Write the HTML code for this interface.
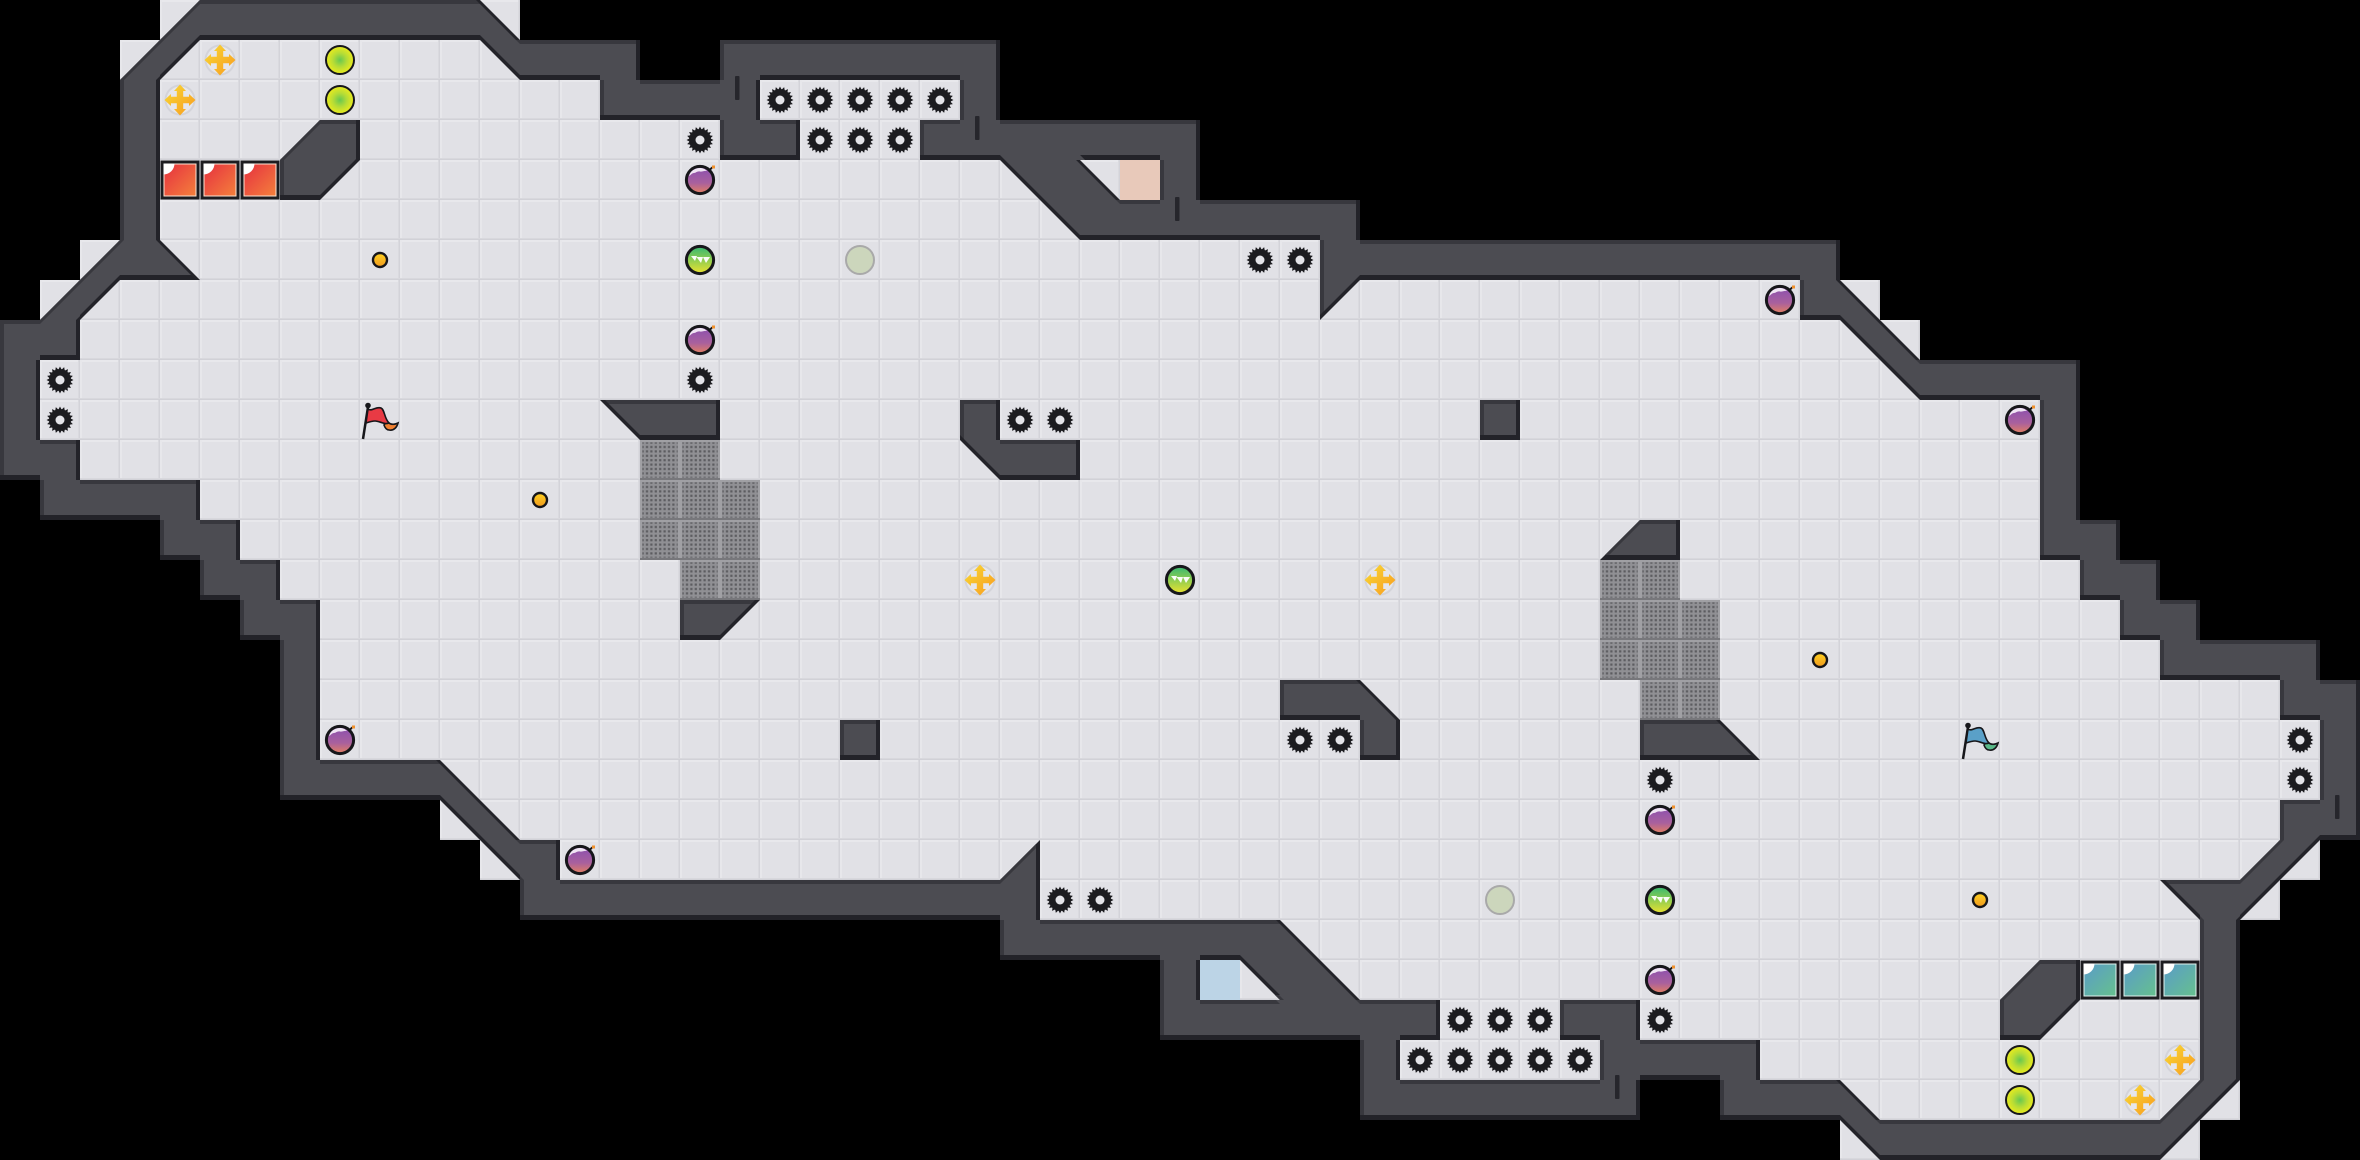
<!DOCTYPE html>
<html><head><meta charset="utf-8"><title>Level</title>
<style>html,body{margin:0;padding:0;background:#000}svg{display:block}</style></head>
<body>
<svg xmlns="http://www.w3.org/2000/svg" width="2360" height="1160" viewBox="0 0 2360 1160">
<defs>
<pattern id="tile" width="40" height="40" patternUnits="userSpaceOnUse">
<rect width="40" height="40" fill="#e1e1e6"/>
<rect width="40" height="2" fill="#e8e8ec"/>
<rect width="2" height="40" fill="#e7e7eb"/>
<rect x="38" width="1" height="40" fill="#dadadf"/>
<rect x="39" width="1" height="40" fill="#d3d3d9"/>
<rect y="38" width="40" height="1" fill="#d8d8dd"/>
<rect y="39" width="40" height="1" fill="#d1d1d7"/>
</pattern>
<pattern id="dots" width="4.4" height="4.4" patternUnits="userSpaceOnUse" x="0" y="0">
<rect x="1.1" y="1.1" width="2.2" height="2.2" fill="#5c5c60"/>
</pattern>
<path id="w" transform="scale(40)" clip-rule="evenodd" d="M5 0L12 0L13 1L16 1L16 2L18 2L18 1L25 1L25 3L30 3L30 5L34 5L34 6L46 6L46 7L48 9L52 9L52 13L53 13L53 14L54 14L54 15L55 15L55 16L58 16L58 17L59 17L59 21L58 21L56 23L56 27L54 29L47 29L46 28L43 28L43 27L41 27L41 28L34 28L34 26L29 26L29 24L25 24L25 23L13 23L13 22L11 20L7 20L7 16L6 16L6 15L5 15L5 14L4 14L4 13L1 13L1 12L0 12L0 8L1 8L3 6L3 2Z
M5 1L12 1L13 2L15 2L15 3L18 3L18 4L20 4L20 3L19 3L19 2L24 2L24 3L23 3L23 4L25 4L27 6L33 6L33 8L34 7L45 7L45 8L46 8L48 10L51 10L51 14L52 14L52 15L53 15L53 16L54 16L54 17L57 17L57 18L58 18L58 20L57 20L57 21L56 22L54 22L55 23L55 27L54 28L47 28L46 27L44 27L44 26L41 26L41 25L39 25L39 26L40 26L40 27L35 27L35 26L36 26L36 25L34 25L32 23L26 23L26 21L25 22L14 22L14 21L13 21L11 19L8 19L8 15L7 15L7 14L6 14L6 13L5 13L5 12L2 12L2 11L1 11L1 9L2 9L2 8L3 7L5 7L4 6L4 2Z
M27 4L29 4L29 5L28 5Z M31 24L32 25L30 25L30 24Z
M8 3L9 3L9 4L8 5L7 5L7 4Z M15 10L18 10L18 11L16 11Z M17 15L19 15L18 16L17 16Z M21 18L22 18L22 19L21 19Z M24 10L25 10L25 11L27 11L27 12L25 12L24 11Z
M51 26L50 26L50 25L51 24L52 24L52 25Z M44 19L41 19L41 18L43 18Z M42 14L40 14L41 13L42 13Z M37 10L38 10L38 11L37 11Z M35 19L34 19L34 18L32 18L32 17L34 17L35 18Z"/>
<clipPath id="cw"><use href="#w"/></clipPath>
<clipPath id="cu"><use href="#w" transform="translate(0,-5)"/></clipPath>
<clipPath id="cl"><use href="#w" transform="translate(-4,0)"/></clipPath>
<clipPath id="cr"><use href="#w" transform="translate(4,0)"/></clipPath>
<clipPath id="cd"><use href="#w" transform="translate(0,4)"/></clipPath>
<clipPath id="cf"><path transform="scale(40)" d="M5 0L12 0L13 1L16 1L16 2L18 2L18 1L25 1L25 3L30 3L30 5L34 5L34 6L46 6L46 7L48 9L52 9L52 13L53 13L53 14L54 14L54 15L55 15L55 16L58 16L58 17L59 17L59 21L58 21L56 23L56 27L54 29L47 29L46 28L43 28L43 27L41 27L41 28L34 28L34 26L29 26L29 24L25 24L25 23L13 23L13 22L11 20L7 20L7 16L6 16L6 15L5 15L5 14L4 14L4 13L1 13L1 12L0 12L0 8L1 8L3 6L3 2Z
M4 0h1v1h-1z M3 1h1v1h-1z M2 6h1v1h-1z M1 7h1v1h-1z M12 0h1v1h-1z M11 20h1v1h-1z M12 21h1v1h-1z M46 7h1v1h-1z M47 8h1v1h-1z M54 28h1v1h-1z M55 27h1v1h-1z M56 22h1v1h-1z M57 21h1v1h-1z M46 28h1v1h-1z"/></clipPath>
<linearGradient id="gb" x1="0" y1="0" x2="0" y2="1"><stop offset="0" stop-color="#8a50b0"/><stop offset=".6" stop-color="#a8609e"/><stop offset="1" stop-color="#e58060"/></linearGradient>
<linearGradient id="gt" x1="0" y1="0" x2="0" y2="1"><stop offset="0" stop-color="#35b872"/><stop offset="1" stop-color="#ece22e"/></linearGradient>
<radialGradient id="gy"><stop offset="0" stop-color="#68c850"/><stop offset=".5" stop-color="#b6dc36"/><stop offset="1" stop-color="#ecec1c"/></radialGradient>
<linearGradient id="gc" x1="0" y1="0" x2="1" y2="1"><stop offset="0" stop-color="#f8da34"/><stop offset="1" stop-color="#f89a20"/></linearGradient>
<linearGradient id="gm" x1="0" y1="0" x2="0" y2="1"><stop offset="0" stop-color="#ffd21f"/><stop offset="1" stop-color="#f09a20"/></linearGradient>
<linearGradient id="gr" x1="0" y1="0" x2="1" y2="1"><stop offset="0" stop-color="#e6303f"/><stop offset="1" stop-color="#f4803c"/></linearGradient>
<linearGradient id="gs" x1="0" y1="0" x2="1" y2="1"><stop offset="0" stop-color="#5a9cc8"/><stop offset="1" stop-color="#66c08e"/></linearGradient>
<g id="g"><g transform="translate(20,20)"><polygon fill="#1b1b1f" points="13.5,0 10.37,1.64 12.84,4.17 9.36,4.77 10.92,7.94 7.42,7.42 7.94,10.92 4.77,9.36 4.17,12.84 1.64,10.37 0,13.5 -1.64,10.37 -4.17,12.84 -4.77,9.36 -7.94,10.92 -7.42,7.42 -10.92,7.94 -9.36,4.77 -12.84,4.17 -10.37,1.64 -13.5,0 -10.37,-1.64 -12.84,-4.17 -9.36,-4.77 -10.92,-7.94 -7.42,-7.42 -7.94,-10.92 -4.77,-9.36 -4.17,-12.84 -1.64,-10.37 0,-13.5 1.64,-10.37 4.17,-12.84 4.77,-9.36 7.94,-10.92 7.42,-7.42 10.92,-7.94 9.36,-4.77 12.84,-4.17 10.37,-1.64"/><circle r="11" fill="#1b1b1f"/><circle r="4.5" fill="#e3e3e8"/></g></g>
<g id="b"><circle cx="20" cy="20" r="13.6" fill="url(#gb)" stroke="#16161a" stroke-width="3"/><path d="M9 16C10 11 15 8 20 8C23 8 25 9 27 11C24 10.5 22 12 20 11.5C17 11 16 13 14 13C12 13 11 15 9 16Z" fill="#fff" opacity=".85"/><path d="M28 11L33 7" stroke="#16161a" stroke-width="2"/><rect x="32" y="5.5" width="3" height="3" fill="#f0902a"/></g>
<g id="t"><circle cx="20" cy="20" r="13.6" fill="url(#gt)" stroke="#16161a" stroke-width="3"/><path d="M11 16L17 16L15 21ZM16.5 17L23 17L21 23ZM23 17L30 17L26 23Z" fill="#fff" opacity=".95"/></g>
<g id="p"><circle cx="20" cy="20" r="14" fill="#ccd6bc" stroke="#a9a9a9" stroke-width="2"/></g>
<g id="y"><circle cx="20" cy="20" r="14" fill="url(#gy)" stroke="#16161a" stroke-width="2"/></g>
<g id="c"><circle cx="20" cy="20" r="15.5" fill="#d3d3d9"/><circle cx="20" cy="20" r="13.5" fill="#e6e6ea"/><path fill="url(#gc)" d="M20 4.5L26 11L23.2 11L23.2 16.8L29 16.8L29 14L35.5 20L29 26L29 23.2L23.2 23.2L23.2 29L26 29L20 35.5L14 29L16.8 29L16.8 23.2L11 23.2L11 26L4.5 20L11 14L11 16.8L16.8 16.8L16.8 11L14 11Z"/></g>
<g id="m"><circle cx="20" cy="20" r="7" fill="url(#gm)" stroke="#16161a" stroke-width="2.4"/></g>
<g id="rb"><rect x=".5" y=".5" width="39" height="39" fill="#1c1c20"/><rect x="4" y="4" width="32" height="32" fill="url(#gr)" stroke="#fbe2d2" stroke-width="1"/><path d="M3.5 3.5H14.5A11 11 0 0 1 3.5 14.5Z" fill="#fff"/></g>
<g id="sb"><rect x=".5" y=".5" width="39" height="39" fill="#1c1c20"/><rect x="4" y="4" width="32" height="32" fill="url(#gs)" stroke="#e0f2ee" stroke-width="1"/><path d="M3.5 3.5H14.5A11 11 0 0 1 3.5 14.5Z" fill="#fff"/></g>
<g id="h"><rect width="40" height="40" fill="#a0a0a4"/><rect y="38" width="40" height="2" fill="#77777b"/><rect x="2" y="2" width="36" height="36" fill="#909094"/><rect x="2" y="2" width="35.2" height="35.2" fill="url(#dots)" transform="translate(.4,.4)"/></g>
<g id="fr"><path d="M3 39L8 7" stroke="#16161a" stroke-width="2.5" fill="none"/><circle cx="8" cy="5.5" r="2.8" fill="#16161a"/><path d="M27 21C30 25 34 25 38 23C37 27 34 31 29 30C27 30 25 28 24 25Z" fill="#f08030" stroke="#16161a" stroke-width="1.6"/><path d="M8 9C12 12 16 6 21 8C25 10 24 18 29 23C24 25 20 21 15 21C12 21 9 22 6 23Z" fill="#e83a44" stroke="#16161a" stroke-width="1.6"/></g>
<g id="fb"><path d="M3 39L8 7" stroke="#16161a" stroke-width="2.5" fill="none"/><circle cx="8" cy="5.5" r="2.8" fill="#16161a"/><path d="M27 21C30 25 34 25 38 23C37 27 34 31 29 30C27 30 25 28 24 25Z" fill="#58b888" stroke="#16161a" stroke-width="1.6"/><path d="M8 9C12 12 16 6 21 8C25 10 24 18 29 23C24 25 20 21 15 21C12 21 9 22 6 23Z" fill="#5aa0c8" stroke="#16161a" stroke-width="1.6"/></g>
</defs>
<rect width="2360" height="1160" fill="#000"/>
<g clip-path="url(#cf)"><rect width="2360" height="1160" fill="url(#tile)"/></g>
<rect x="1120" y="160" width="40" height="40" fill="#e8c9ba"/>
<rect x="1200" y="960" width="40" height="40" fill="#bcd4e6"/>
<g clip-path="url(#cw)"><rect width="2360" height="1160" fill="#232329"/>
<g clip-path="url(#cu)"><g clip-path="url(#cl)"><rect width="2360" height="1160" fill="#38383e"/>
<g clip-path="url(#cr)"><g clip-path="url(#cd)"><rect width="2360" height="1160" fill="#4c4c52"/></g></g>
</g></g></g>
<g fill="#26262c"><rect x="735" y="76" width="4.5" height="24" rx="1"/><rect x="975" y="116" width="4.5" height="24" rx="1"/><rect x="1175" y="197" width="4.5" height="24" rx="1"/><rect x="1615" y="1075" width="4.5" height="24" rx="1"/><rect x="2335" y="795" width="4.5" height="24" rx="1"/></g>
<use href="#h" x="640" y="440"/><use href="#h" x="680" y="440"/><use href="#h" x="640" y="480"/><use href="#h" x="680" y="480"/><use href="#h" x="720" y="480"/><use href="#h" x="640" y="520"/><use href="#h" x="680" y="520"/><use href="#h" x="720" y="520"/><use href="#h" x="680" y="560"/><use href="#h" x="720" y="560"/>
<use href="#h" x="1600" y="560"/><use href="#h" x="1640" y="560"/><use href="#h" x="1600" y="600"/><use href="#h" x="1640" y="600"/><use href="#h" x="1680" y="600"/><use href="#h" x="1600" y="640"/><use href="#h" x="1640" y="640"/><use href="#h" x="1680" y="640"/><use href="#h" x="1640" y="680"/><use href="#h" x="1680" y="680"/>
<use href="#g" x="40" y="360"/><use href="#g" x="40" y="400"/><use href="#g" x="680" y="120"/><use href="#g" x="680" y="360"/>
<use href="#g" x="760" y="80"/><use href="#g" x="800" y="80"/><use href="#g" x="840" y="80"/><use href="#g" x="880" y="80"/><use href="#g" x="920" y="80"/><use href="#g" x="800" y="120"/><use href="#g" x="840" y="120"/><use href="#g" x="880" y="120"/>
<use href="#g" x="1240" y="240"/><use href="#g" x="1280" y="240"/><use href="#g" x="1000" y="400"/><use href="#g" x="1040" y="400"/>
<use href="#g" x="2280" y="760"/><use href="#g" x="2280" y="720"/><use href="#g" x="1640" y="1000"/><use href="#g" x="1640" y="760"/>
<use href="#g" x="1560" y="1040"/><use href="#g" x="1520" y="1040"/><use href="#g" x="1480" y="1040"/><use href="#g" x="1440" y="1040"/><use href="#g" x="1400" y="1040"/><use href="#g" x="1520" y="1000"/><use href="#g" x="1480" y="1000"/><use href="#g" x="1440" y="1000"/>
<use href="#g" x="1080" y="880"/><use href="#g" x="1040" y="880"/><use href="#g" x="1320" y="720"/><use href="#g" x="1280" y="720"/>
<use href="#b" x="680" y="160"/><use href="#b" x="680" y="320"/><use href="#b" x="1640" y="960"/><use href="#b" x="1640" y="800"/><use href="#b" x="320" y="720"/><use href="#b" x="2000" y="400"/><use href="#b" x="560" y="840"/><use href="#b" x="1760" y="280"/>
<use href="#t" x="680" y="240"/><use href="#t" x="1640" y="880"/><use href="#t" x="1160" y="560"/>
<use href="#p" x="840" y="240"/><use href="#p" x="1480" y="880"/>
<use href="#y" x="320" y="40"/><use href="#y" x="320" y="80"/><use href="#y" x="2000" y="1080"/><use href="#y" x="2000" y="1040"/>
<use href="#c" x="200" y="40"/><use href="#c" x="160" y="80"/><use href="#c" x="2120" y="1080"/><use href="#c" x="2160" y="1040"/><use href="#c" x="960" y="560"/><use href="#c" x="1360" y="560"/>
<use href="#m" x="360" y="240"/><use href="#m" x="520" y="480"/><use href="#m" x="1800" y="640"/><use href="#m" x="1960" y="880"/>
<use href="#fr" x="360" y="400"/><use href="#fb" x="1960" y="720"/>
<use href="#rb" x="160" y="160"/><use href="#rb" x="200" y="160"/><use href="#rb" x="240" y="160"/>
<use href="#sb" x="2080" y="960"/><use href="#sb" x="2120" y="960"/><use href="#sb" x="2160" y="960"/>
</svg>
</body></html>
